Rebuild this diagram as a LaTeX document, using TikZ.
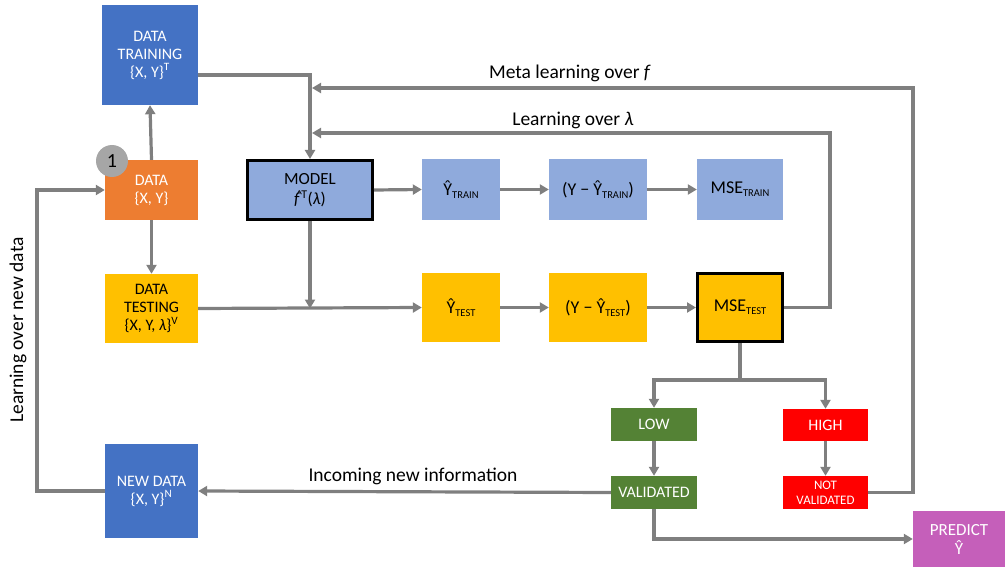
\documentclass[tikz,border=0pt]{standalone}
\usepackage{fontspec}
\setmainfont{Carlito}
\usetikzlibrary{arrows.meta}
\definecolor{cblue}{HTML}{4472C4}
\definecolor{corange}{HTML}{ED7D31}
\definecolor{cyellow}{HTML}{FFC000}
\definecolor{clblue}{HTML}{8FAADC}
\definecolor{cgreen}{HTML}{548235}
\definecolor{cred}{HTML}{FF0000}
\definecolor{cpurple}{HTML}{C55FBA}
\definecolor{cline}{HTML}{7F7F7F}
\definecolor{ccirc}{HTML}{A6A6A6}
\tikzset{
  box/.style={inner sep=0pt, align=center, font=\fontsize{16}{18}\selectfont},
  wbox/.style={box, text=white},
  conn/.style={draw=cline, line width=3.2pt},
  arr/.style={conn, -{Triangle[length=9pt,width=10pt]}},
  lbl/.style={font=\fontsize{19.5}{22}\selectfont, inner sep=0pt},
  ybig/.style={font=\fontsize{18}{20}\selectfont},
}
\newcommand{\sub}[1]{\raisebox{-0.35ex}{\fontsize{10.5}{11}\selectfont #1}}
\newcommand{\fhat}{{\itshape\rlap{\kern0.1em\raisebox{0.3em}{\fontsize{13}{13}\selectfont\^{}}}f}}
\begin{document}
\begin{tikzpicture}[x=1pt,y=-1pt]
\useasboundingbox (0,0) rectangle (1005,567);
% boxes
\node[wbox, fill=cblue, minimum width=96pt, minimum height=100pt] (tr) at (150,55) {DATA\\TRAINING\\\{X, Y\}\textsuperscript{T}};
\node[wbox, fill=corange, minimum width=93pt, minimum height=60pt] (data) at (151.5,190) {DATA\\\{X, Y\}};
\node[box, fill=cyellow, minimum width=93pt, minimum height=69pt] (dte) at (151.5,308.5) {DATA\\TESTING\\\{X, Y, \textit{λ}\}\textsuperscript{V}};
\node[box, fill=clblue, draw=black, line width=3pt, minimum width=125pt, minimum height=59pt, font=\fontsize{17}{20}\selectfont] (model) at (310,190) {MODEL\\\fhat\kern0.12em\textsuperscript{T}(\textit{λ})};
\node[box, ybig, fill=clblue, minimum width=78pt, minimum height=61pt] (ytr) at (461,189.5) {Ŷ\sub{TRAIN}};
\node[box, ybig, fill=clblue, minimum width=98pt, minimum height=61pt] (dtr) at (598,189.5) {(Y − Ŷ\sub{TRAIN})};
\node[box, ybig, fill=clblue, minimum width=86pt, minimum height=61pt] (mtr) at (740,189.5) {MSE\sub{TRAIN}};
\node[box, ybig, fill=cyellow, minimum width=78pt, minimum height=69pt] (yte) at (461,307.5) {Ŷ\sub{TEST}};
\node[box, ybig, fill=cyellow, minimum width=98pt, minimum height=69pt] (dtt) at (598,307.5) {(Y − Ŷ\sub{TEST})};
\node[box, ybig, fill=cyellow, draw=black, line width=3pt, minimum width=85pt, minimum height=68pt] (mte) at (740,307.5) {MSE\sub{TEST}};
\node[wbox, fill=cgreen, minimum width=86pt, minimum height=33pt] (low) at (654,424.5) {LOW};
\node[wbox, fill=cgreen, minimum width=86pt, minimum height=33pt] (val) at (654,492.5) {VALIDATED};
\node[wbox, fill=cred, minimum width=85pt, minimum height=32pt] (high) at (825.5,425) {HIGH};
\node[wbox, fill=cred, minimum width=85pt, minimum height=33pt, font=\fontsize{13}{15}\selectfont] (nval) at (825.5,492.5) {NOT\\VALIDATED};
\node[wbox, fill=cpurple, minimum width=92pt, minimum height=56pt, font=\fontsize{17}{19}\selectfont] (pred) at (959,539) {PREDICT\\Ŷ};
\node[wbox, fill=cblue, minimum width=93pt, minimum height=94pt] (nd) at (151.5,491) {NEW DATA\\\{X, Y\}\textsuperscript{N}};
\node[circle, fill=ccirc, minimum size=32pt, inner sep=0pt, font=\fontsize{20}{22}\selectfont] (one) at (112,161) {1};
% coordinates
\coordinate (m1) at (913,88);
\coordinate (m2) at (312,88);
\coordinate (l1) at (830,133);
\coordinate (l2) at (312,133);
\coordinate (split) at (740,380);
\coordinate (nl) at (37,491);
% connectors
\draw[arr] (data.north) -- (tr.south);
\draw[arr] (data.south) -- (dte.north);
\draw[arr] ([yshift=-20pt]tr.east) -| (model.north);
\draw[arr] (nval.east) -| (m1) -- (m2);
\draw[arr] (mte.east) -| (l1) -- (l2);
\draw[arr] (model.east) -- (ytr.west);
\draw[arr] (ytr.east) -- (dtr.west);
\draw[arr] (dtr.east) -- (mtr.west);
\draw[arr] (model.south) -- (dte.east -| model.south);
\draw[arr] (dte.east) -- (yte.west);
\draw[arr] (yte.east) -- (dtt.west);
\draw[arr] (dtt.east) -- (mte.west);
\draw[conn] (mte.south) -- (split);
\draw[arr] (split) -| (low.north);
\draw[arr] (split) -| (high.north);
\draw[arr] (low.south) -- (val.north);
\draw[arr] (high.south) -- (nval.north);
\draw[arr] (val.west) -- (nd.east);
\draw[arr] (val.south) |- (pred.west);
\draw[arr] (nd.west) -- (nl) |- (data.west);
% labels
\node[lbl] (lmeta) at (570,73) {Meta learning over \textit{f}};
\node[lbl] (llam) at (573,120) {Learning over \textit{λ}};
\node[lbl] (linc) at (413,476) {Incoming new information};
\node[lbl, rotate=90] (lnew) at (18,330) {Learning over new data};
\end{tikzpicture}
\end{document}
